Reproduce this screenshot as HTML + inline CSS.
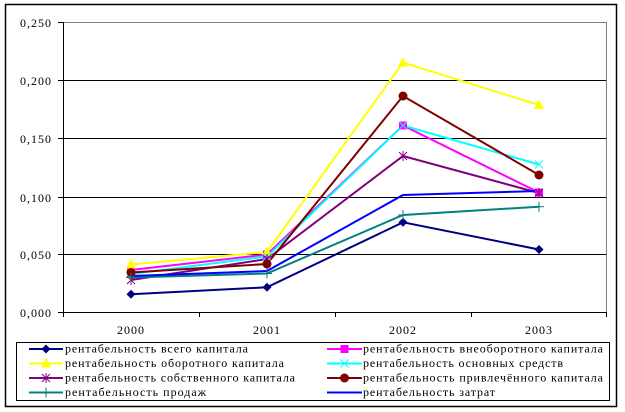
<!DOCTYPE html>
<html><head><meta charset="utf-8"><style>
html,body{margin:0;padding:0;background:#fff;}
svg{display:block;}
text{font-family:"Liberation Serif","DejaVu Serif",serif;fill:#000;}
</style></head><body>
<svg width="625" height="412" viewBox="0 0 625 412" xmlns="http://www.w3.org/2000/svg">
<defs>
<polygon id="mDia" points="0,-4.5 4.5,0 0,4.5 -4.5,0" fill="#000080"/>
<rect id="mSq" x="-4" y="-4" width="8" height="8" fill="#FF00FF"/>
<polygon id="mTri" points="0,-5.5 5,4 -5,4" fill="#FFFF00"/>
<g id="mX" stroke="#00FFFF" stroke-width="1"><line x1="-4" y1="-4" x2="4" y2="4"/><line x1="-4" y1="4" x2="4" y2="-4"/></g>
<g id="mStar" stroke="#800080" stroke-width="1"><line x1="-4" y1="-4" x2="4" y2="4"/><line x1="-4" y1="4" x2="4" y2="-4"/><line x1="0" y1="-5" x2="0" y2="5"/></g>
<circle id="mCir" r="4.5" fill="#800000"/>
<g id="mPlus" stroke="#008080" stroke-width="1"><line x1="-5" y1="0" x2="5" y2="0"/><line x1="0" y1="-5" x2="0" y2="5"/></g>
</defs>

<rect x="0" y="0" width="625" height="412" fill="#fff"/>
<rect x="5.5" y="4.5" width="611" height="402" fill="none" stroke="#000" stroke-width="1.5"/>

<line x1="63" y1="22.5" x2="606.5" y2="22.5" stroke="#808080" stroke-width="1"/>
<line x1="606.5" y1="22" x2="606.5" y2="313" stroke="#808080" stroke-width="1"/>
<g stroke="#000" stroke-width="1">
<line x1="58" y1="80.5" x2="606" y2="80.5"/>
<line x1="58" y1="138.5" x2="606" y2="138.5"/>
<line x1="58" y1="197.5" x2="606" y2="197.5"/>
<line x1="58" y1="254.5" x2="606" y2="254.5"/>
<line x1="58" y1="22.5" x2="63" y2="22.5"/>
<line x1="58" y1="312.5" x2="607" y2="312.5"/>
<line x1="63.5" y1="22" x2="63.5" y2="313"/>
<line x1="63.5" y1="313" x2="63.5" y2="317"/>
<line x1="199.5" y1="313" x2="199.5" y2="317"/>
<line x1="335.5" y1="313" x2="335.5" y2="317"/>
<line x1="471.5" y1="313" x2="471.5" y2="317"/>
<line x1="606.5" y1="313" x2="606.5" y2="317"/>
</g>

<g font-size="12" text-anchor="end">
<text x="51" y="27" textLength="31" lengthAdjust="spacing">0,250</text>
<text x="51" y="85" textLength="31" lengthAdjust="spacing">0,200</text>
<text x="51" y="143" textLength="31" lengthAdjust="spacing">0,150</text>
<text x="51" y="202" textLength="31" lengthAdjust="spacing">0,100</text>
<text x="51" y="259" textLength="31" lengthAdjust="spacing">0,050</text>
<text x="51" y="317" textLength="31" lengthAdjust="spacing">0,000</text>
</g>
<g font-size="12">
<text x="117" y="334" textLength="27" lengthAdjust="spacing">2000</text>
<text x="253" y="334" textLength="27" lengthAdjust="spacing">2001</text>
<text x="389" y="334" textLength="27" lengthAdjust="spacing">2002</text>
<text x="525" y="334" textLength="27" lengthAdjust="spacing">2003</text>
</g>

<g fill="none" stroke-width="2">
<polyline stroke="#000080" points="131,294.3 267,287.3 403,222.3 539,249.5"/>
<polyline stroke="#FF00FF" points="131,270 267,254.5 403,125.5 539,192.5"/>
<polyline stroke="#FFFF00" points="131,264.5 267,252 403,62.5 539,105"/>
<polyline stroke="#00FFFF" points="131,274 267,256.5 403,125.5 539,164.5"/>
<polyline stroke="#800080" points="131,280 267,259 403,156 539,193"/>
<polyline stroke="#800000" points="131,272.5 267,264 403,96 539,175"/>
<polyline stroke="#008080" points="131,277.5 267,273.5 403,215 539,206.7"/>
<polyline stroke="#0000FF" points="131,276 267,271 403,195 539,191"/>
</g>
<use href="#mDia" x="131" y="294.3"/><use href="#mDia" x="267" y="287.3"/><use href="#mDia" x="403" y="222.3"/><use href="#mDia" x="539" y="249.5"/>
<use href="#mSq" x="131" y="270"/><use href="#mSq" x="267" y="254.5"/><use href="#mSq" x="403" y="125.5"/><use href="#mSq" x="539" y="192.5"/>
<use href="#mTri" x="131" y="264.5"/><use href="#mTri" x="267" y="252"/><use href="#mTri" x="403" y="62.5"/><use href="#mTri" x="539" y="105"/>
<use href="#mX" x="131" y="274"/><use href="#mX" x="267" y="256.5"/><use href="#mX" x="403" y="125.5"/><use href="#mX" x="539" y="164.5"/>
<use href="#mStar" x="131" y="280"/><use href="#mStar" x="267" y="259"/><use href="#mStar" x="403" y="156"/><use href="#mStar" x="539" y="193"/>
<use href="#mCir" x="131" y="272.5"/><use href="#mCir" x="267" y="264"/><use href="#mCir" x="403" y="96"/><use href="#mCir" x="539" y="175"/>
<use href="#mPlus" x="131" y="277.5"/><use href="#mPlus" x="267" y="273.5"/><use href="#mPlus" x="403" y="215"/><use href="#mPlus" x="539" y="206.7"/>

<rect x="16.5" y="342.5" width="593" height="58" fill="#fff" stroke="#000" stroke-width="1"/>
<g stroke-width="2">
<line x1="29" y1="349" x2="63" y2="349" stroke="#000080"/>
<line x1="29" y1="363.5" x2="63" y2="363.5" stroke="#FFFF00"/>
<line x1="29" y1="378" x2="63" y2="378" stroke="#800080"/>
<line x1="29" y1="392.5" x2="63" y2="392.5" stroke="#008080"/>
<line x1="327" y1="349" x2="362" y2="349" stroke="#FF00FF"/>
<line x1="327" y1="363.5" x2="362" y2="363.5" stroke="#00FFFF"/>
<line x1="327" y1="378" x2="362" y2="378" stroke="#800000"/>
<line x1="327" y1="392.5" x2="362" y2="392.5" stroke="#0000FF"/>
</g>
<use href="#mDia" x="46" y="349"/>
<use href="#mTri" x="46" y="363.5"/>
<use href="#mStar" x="46" y="378"/>
<use href="#mPlus" x="46" y="392.5"/>
<use href="#mSq" x="344.5" y="349"/>
<use href="#mX" x="344.5" y="363.5"/>
<use href="#mCir" x="344.5" y="378"/>
<g font-size="12">
<text x="65" y="352.5" textLength="183" lengthAdjust="spacing">рентабельность всего капитала</text>
<text x="65" y="367" textLength="219" lengthAdjust="spacing">рентабельность оборотного капитала</text>
<text x="65" y="381.5" textLength="230" lengthAdjust="spacing">рентабельность собственного капитала</text>
<text x="65" y="396" textLength="141" lengthAdjust="spacing">рентабельность продаж</text>
<text x="363" y="352.5" textLength="240" lengthAdjust="spacing">рентабельность внеоборотного капитала</text>
<text x="363" y="367" textLength="200" lengthAdjust="spacing">рентабельность основных средств</text>
<text x="363" y="381.5" textLength="240" lengthAdjust="spacing">рентабельность привлечённого капитала</text>
<text x="363" y="396" textLength="132" lengthAdjust="spacing">рентабельность затрат</text>
</g>
</svg>
</body></html>
